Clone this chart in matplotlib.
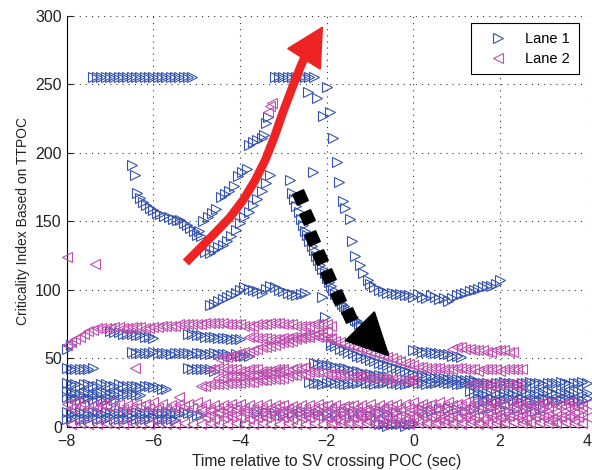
import matplotlib
matplotlib.use("Agg")
import matplotlib.pyplot as plt
from matplotlib.patches import Polygon

plt.rcParams['font.family'] = ['Liberation Sans', 'DejaVu Sans']

# sample times (sec) used by the regularly sampled tracks
TIME = [-8.0, -7.9, -7.8, -7.7, -7.6, -7.5, -7.4, -7.3, -7.2, -7.1,
        -7.0, -6.9, -6.8, -6.7, -6.6, -6.5, -6.4, -6.3, -6.2, -6.1,
        -6.0, -5.9, -5.8, -5.7, -5.6, -5.5, -5.4, -5.3, -5.2, -5.1,
        -5.0, -4.9, -4.8, -4.7, -4.6, -4.5, -4.4, -4.3, -4.2, -4.1,
        -4.0, -3.9, -3.8, -3.7, -3.6, -3.5, -3.4, -3.3, -3.2, -3.1,
        -3.0, -2.9, -2.8, -2.7, -2.6, -2.5, -2.4, -2.3, -2.2, -2.1,
        -2.0, -1.9, -1.8, -1.7, -1.6, -1.5, -1.4, -1.3, -1.2, -1.1,
        -1.0, -0.9, -0.8, -0.7, -0.6, -0.5, -0.4, -0.3, -0.2, -0.1,
        0.0, 0.1, 0.2, 0.3, 0.4, 0.5, 0.6, 0.7, 0.8, 0.9,
        1.0, 1.1, 1.2, 1.3, 1.4, 1.5, 1.6, 1.7, 1.8, 1.9,
        2.0, 2.1, 2.2, 2.3, 2.4, 2.5, 2.6, 2.7, 2.8, 2.9,
        3.0, 3.1, 3.2, 3.3, 3.4, 3.5, 3.6, 3.7, 3.8, 3.9,
        4.0]

# ---- Lane 1: regularly sampled tracks (start time, values every 0.1 s)
L1_TOP_A = (-7.4, [255, 255, 255, 255, 255, 255, 255, 255, 255, 255, 255, 255,
                   255, 255, 255, 255, 255, 255, 255, 255, 255, 255, 255, 255])
L1_TOP_B = (-3.2, [255, 255, 255, 255, 255, 255, 255, 255, 255, 255])
L1_TAIL = (-1.0, [104, 102, 100, 99, 98, 98, 97, 97, 96, 96, 95, 97, 95, 94, 96, 95,
                  93, 94, 92, 94, 96, 97, 98, 99, 100, 101, 102, 103, 103, 104, 107])
L1_LOW_BRANCH = (-4.8, [128, 127, 129, 131, 133, 136, 139, 144, 149, 153, 157, 162,
                        166, 172, 178, 184])
L1_100 = (-4.7, [89, 90, 92, 93, 95, 96, 98, 100, 102, 101, 100, 99, 98, 101, 103,
                 102, 100, 99, 98, 97, 96, 97, 98])
L1_60 = (-8.0, [57, 60])
L1_68 = (-7.0, [70, 69, 69, 68, 68, 68, 67, 67, 66, 66, 65])
L1_66 = (-5.2, [68, 68, 67, 67, 66, 66, 66, 65, 65, 65, 64, 64, 64])
L1_54 = (-6.5, [55, 54, 54, 54, 54, 55, 54, 54, 54, 53, 54, 54, 54, 54, 53, 54, 54,
                53, 53, 54, 53, 53, 53, 52, 53, 52, 52, 52])
L1_42A = (-8.0, [43, 42, 42, 42, 42, 42, 43])
L1_42B = (-5.2, [43, 42, 42, 42, 42, 42, 41])
L1_30 = (-8.0, [32, 31, 31, 30, 31, 31, 30, 30, 31, 31, 30, 30, 31, 30, 30, 30, 30,
                29, 30, 30, 29, 29, 28, 28])
L1_25 = (-8.0, [26, 25, 25, 24, 25, 25, 24, 24, 25, 25, 24, 24, 25, 24, 24, 24, 23, 23])
L1_21 = (-8.0, [22, 21, 21, 20, 21, 21, 20, 21, 20, 20, 21, 20])
L1_11 = (-8.0, [11, 10, 11, 11, 10, 10, 11, 11, 10, 11, 11, 10, 10, 11, 11, 10, 11,
                10, 10, 11, 11, 10, 10, 11, 10, 10, 10, 11, 10, 10, 9, 9])
L1_6 = (-8.0, [6, 6, 7, 6, 6, 6, 7, 6, 6, 6, 7, 6, 6, 6, 6, 7, 6, 6, 6, 6, 7, 6, 6,
               6, 6, 5])
L1_55R = (0.0, [56, 56, 55, 55, 55, 54, 54, 53, 53, 52, 52, 51])
L1_DIAG = (-1.9, [60, 59, 57, 56, 55, 54, 52, 51, 50, 49, 48, 47, 46, 45, 44, 43, 42,
                  41, 40, 39, 38, 38, 37, 37, 36, 36, 36, 35, 35, 35, 34, 34, 34, 34, 33])
L1_DIAG2 = (-2.3, [47, 46, 46, 45, 45, 44, 43, 43, 42, 41, 41, 40, 39, 39, 38, 38, 37, 37])
L1_32 = (-2.4, [33, 32, 32, 31, 32, 33, 32, 32, 31, 31, 32, 32, 33, 32, 32, 31, 32, 32,
                33, 32, 32, 31, 31, 32, 33, 32, 32, 31, 32, 32, 33, 33, 32, 32, 31, 31,
                32, 32, 33, 32, 32, 32, 31, 32, 32, 33, 32, 32, 31, 32, 32, 33, 32, 32,
                31, 32, 32, 32, 33, 32, 31, 32, 32, 33, 32])
L1_25R = (1.3, [26, 25, 25, 24, 25, 26, 25, 24, 25, 25, 24, 25, 26, 25, 25, 24, 25, 25,
                26, 25, 24, 25, 25, 24, 25, 26, 25, 25])
L1_20R = (1.5, [21, 20, 20, 21, 20, 19, 20, 21, 20, 20, 21, 20, 19, 20, 20, 21, 20, 20,
                19, 20, 21, 20, 20, 19, 20, 21])
L1_2 = (-0.8, [2, 2, 1, 2, 2, 2, 1, 2, 2])
# values every 0.2 s
L1_10M = (-3.6, [10, 11, 10, 9, 10, 11, 10, 10, 9, 10, 11, 10, 10, 9, 10, 10, 11])
L1_13R = (0.2, [13, 12, 13, 14, 13, 12, 13, 13, 14, 13, 12, 13, 13, 12, 13])

# ---- Lane 1: irregular points
L1_FALL_X = [-2.43, -2.22, -1.99, -2.08, -1.92, -1.85, -1.76, -1.71, -1.62, -1.58,
             -1.46, -1.41, -1.35, -1.23, -1.16, -1.05]
L1_FALL_Y = [244, 240, 248, 227, 230, 211, 193, 179, 165, 160, 152, 136, 125, 118, 112, 107]
L1_LEFT_X = [-6.49, -6.42, -6.38, -6.3, -6.24, -6.16, -6.08, -6.0, -5.92, -5.85, -5.75,
             -5.65, -5.55, -5.45, -5.38, -5.3, -5.22, -5.15, -5.07, -4.99, -4.9]
L1_LEFT_Y = [191, 184, 171, 167, 164, 162, 160, 158, 156, 155, 154, 153, 152, 151, 151,
             149, 147, 145, 143, 140, 139]
L1_UP_X = [-4.95, -4.85, -4.75, -4.65, -4.55, -4.45, -4.35, -4.25, -4.15, -4.05, -3.95,
           -3.85, -3.8, -3.7, -3.6, -3.5, -3.45, -3.4, -3.35]
L1_UP_Y = [143, 150, 153, 156, 159, 168, 170, 172, 176, 183, 186, 188, 206, 208, 209,
           211, 213, 222, 226]
L1_DROP_X = [-2.85, -2.8, -2.75, -2.7, -2.65, -2.6, -2.55, -2.5, -2.45, -2.4, -2.35,
             -2.3, -2.25, -2.2, -2.15, -2.1, -2.05, -2.0, -1.95, -1.9, -1.85, -1.8,
             -1.75, -1.7, -1.65, -1.6, -1.55, -1.5, -1.45, -1.4, -1.35, -1.3, -1.25,
             -1.2, -1.1]
L1_DROP_Y = [180, 171, 166, 161, 157, 152, 147, 143, 140, 136, 132, 129, 125, 122, 118,
             115, 112, 109, 106, 103, 100, 97, 95, 92, 90, 88, 86, 84, 82, 80, 78, 77,
             75, 74, 72]
L1_SOLO_X = [-2.31, -2.1, -2.03, -1.9]
L1_SOLO_Y = [186, 95, 80, 62]

# ---- Lane 2: regularly sampled tracks
L2_74 = (-8.0, [60, 62, 64, 66, 68, 70, 71, 72, 72, 72,
                72, 73, 73, 72, 72, 73, 73, 73, 72, 72,
                73, 73, 74, 74, 74, 74, 75, 75, 75, 75,
                75, 75, 76, 76, 76, 76, 76, 75, 75, 75,
                75, 74, 74, 74, 75, 75, 75, 76, 76, 76,
                75, 75, 75, 74, 74, 74, 74, 75, 75, 75,
                75, 74])
L2_66 = (-3.8, [66, 66, 65, 65, 65, 64, 64, 64, 65, 65, 66, 66, 66, 67, 67, 67, 66, 66,
                65, 65])
L2_RISE = (-4.5, [50, 51, 51, 52, 53, 54, 55, 55, 56, 57, 58, 58, 59, 60, 61, 62, 62,
                  63, 64, 65, 66, 66, 67, 68, 69, 70])
L2_DIAG = (-1.9, [64, 63, 62, 61, 60, 59, 58, 57, 56, 55, 54, 53, 52, 51, 50, 49, 48,
                  47, 46, 45, 44, 44, 43, 43, 43, 43, 42, 42, 42, 43, 43, 42, 42, 42,
                  41, 42, 42, 42, 42, 41, 42, 42, 42, 42, 42])
L2_57 = (0.9, [57, 58, 58, 57, 57, 56, 56, 56, 55, 55, 56, 56, 56, 55, 55])
L2_42 = (-4.7, [42, 42, 43, 43, 42, 42, 42, 41, 41, 42, 42, 42, 41, 41, 41, 42, 42, 42])
L2_35 = (-4.9, [30, 30, 31, 31, 31, 31, 32, 32, 32, 32, 33, 33, 33, 34, 34, 34, 35, 35,
                35, 36, 37, 38, 38, 39, 39, 40, 40, 40, 40, 39, 39, 39, 38, 38, 38, 37,
                37, 37, 36, 36, 36, 36, 35, 35, 35, 35, 34, 34, 34, 34])
L2_39 = (-4.5, [36, 36, 37, 37, 37, 37, 38, 38, 38, 38, 39, 39, 39, 40, 40, 41, 41, 42,
                43, 43, 44])
L2_31R = (1.3, [31, 31, 32, 31, 31, 30, 31, 31, 32, 31, 31, 30, 31])
# values every 0.2 s
L2_17 = (-8.0, [17, 18, 17, 16, 17, 18, 17, 16, 17, 17, 18, 17, 16, 17, 17, 18, 17, 16,
                16, 17, 17, 16, 16, 17, 16, 16, 15, 16, 16, 17, 16, 16, 15, 16, 16, 17,
                16, 16, 17, 17, 18, 17, 17, 18, 18, 17, 18, 18, 19, 18, 18, 19, 18, 18,
                17, 18, 18, 17, 18, 17, 17])
L2_14 = (-7.9, [14, 15, 14, 14, 15, 14, 13, 14, 15, 14, 14, 13, 14, 15, 14, 14, 13, 14,
                14, 15, 14, 13, 14, 14, 15, 14, 14, 13, 14, 15, 14, 14, 15, 14, 13, 14,
                14, 15, 14, 14, 15, 15, 14, 15, 16, 15, 15, 16, 15, 15, 16, 15, 15, 16,
                15, 15, 16, 15, 15, 15])
L2_12 = (-4.9, [12, 12, 11, 12, 13, 12, 12, 11, 12, 12, 13, 12, 11, 12, 12, 13, 12, 12,
                11, 12, 12, 13, 12, 12, 11, 12, 13, 12, 12, 11, 12, 12, 13, 12, 12, 11,
                12, 12, 13, 12, 12, 11, 12, 12, 13])
L2_9 = (-4.7, [9, 10, 9, 9, 10, 9, 8, 9, 10, 9, 9, 8, 9, 10, 9, 9, 8, 9, 9, 10, 9, 9,
               8, 9, 10, 9, 9, 8, 9, 10, 9, 9, 10, 9, 8, 9, 9, 10, 9, 9, 8, 9, 10, 9])
L2_7 = (-4.8, [7, 6, 7, 8, 7, 6, 7, 7, 8, 7, 6, 7, 7, 8, 7, 6, 7, 7, 8, 7, 6, 7, 7, 6,
               7, 8, 7, 6, 7, 7, 8, 7, 6, 7, 7, 8, 7, 6, 7, 7, 6, 7, 8, 7, 7])
L2_4 = (-1.9, [4, 5, 4, 4, 5, 4, 4, 5, 4, 4, 5, 4, 4, 5, 4, 4, 5, 4, 4, 5, 4, 4, 5, 4,
               4, 5, 4, 4, 5])
L2_2 = (-7.9, [2, 3, 2, 2, 3, 2, 2, 3, 2, 2, 3, 2, 2, 3, 2, 2, 3, 2, 2, 3, 2, 2, 3, 2,
               2, 3, 2, 2, 3, 2, 2, 3, 2, 2, 3, 2, 2, 3, 2, 2, 3, 2, 2, 3, 2, 2, 3, 2,
               2, 3, 3, 4, 3, 3, 4, 3, 3, 4, 3, 3])

L2_SOLO_X = [-8.0, -7.35, -6.42, -5.4, -3.5, -3.35, -3.3, -3.27]
L2_SOLO_Y = [124, 119, 43, 22, 34, 230, 234, 236]

# ---- annotation arrows
RED_PATH_X = [-5.25, -4.92, -4.58, -4.23, -3.93, -3.65, -3.42, -3.22, -3.01, -2.8,
              -2.62, -2.48]
RED_PATH_Y = [120, 130.5, 141.4, 153, 165.5, 180, 194.6, 210.6, 229.6, 247.1, 261.7, 272]
RED_HEAD = [(-2.1, 291.6), (-2.9, 276), (-2.15, 261)]
DOT_X = [-2.61, -2.46, -2.33, -2.15, -1.98, -1.75, -1.48]
DOT_Y = [168, 153, 138, 124, 110, 95, 82]
BLACK_HEAD = [(-1.57, 63), (-0.9, 84), (-0.57, 52)]

LANE1_DENSE = [L1_TOP_A, L1_TOP_B, L1_TAIL, L1_LOW_BRANCH, L1_100, L1_60, L1_68, L1_66,
               L1_54, L1_42A, L1_42B, L1_30, L1_25, L1_21, L1_11, L1_6, L1_55R, L1_DIAG,
               L1_DIAG2, L1_32, L1_25R, L1_20R, L1_2]
LANE1_SPARSE = [L1_10M, L1_13R]
LANE1_FREE = [(L1_FALL_X, L1_FALL_Y), (L1_LEFT_X, L1_LEFT_Y), (L1_UP_X, L1_UP_Y),
              (L1_DROP_X, L1_DROP_Y), (L1_SOLO_X, L1_SOLO_Y)]
LANE2_DENSE = [L2_74, L2_66, L2_RISE, L2_DIAG, L2_57, L2_42, L2_35, L2_39, L2_31R]
LANE2_SPARSE = [L2_17, L2_14, L2_12, L2_9, L2_7, L2_4, L2_2]
LANE2_FREE = [(L2_SOLO_X, L2_SOLO_Y)]


def collect(dense, sparse, free):
    xs, ys = [], []
    for start, vals in dense:
        i = TIME.index(start)
        xs += TIME[i:i + len(vals)]
        ys += vals
    for start, vals in sparse:
        i = TIME.index(start)
        xs += TIME[i:i + 2 * len(vals):2]
        ys += vals
    for fx, fy in free:
        xs += fx
        ys += fy
    return xs, ys


BLUE = '#3553AE'
MAGENTA = '#BF4FAE'

fig = plt.figure(figsize=(5.92, 4.70), dpi=100)
ax = fig.add_axes([0.1127, 0.0915, 0.8784, 0.8751])

x1, y1 = collect(LANE1_DENSE, LANE1_SPARSE, LANE1_FREE)
x2, y2 = collect(LANE2_DENSE, LANE2_SPARSE, LANE2_FREE)
ax.plot(x1, y1, ls='none', marker='>', ms=6.5, mfc='none', mec=BLUE, mew=0.8,
        label='Lane 1', clip_on=False, zorder=3)
ax.plot(x2, y2, ls='none', marker='<', ms=6.5, mfc='none', mec=MAGENTA, mew=0.8,
        label='Lane 2', clip_on=False, zorder=3)

# red arrow
ax.plot(RED_PATH_X, RED_PATH_Y, color='#EE2424', lw=6.2, solid_capstyle='butt',
        solid_joinstyle='round', zorder=5)
ax.add_patch(Polygon(RED_HEAD, closed=True, color='#EE2424', zorder=5))
# black dotted arrow (squares turned along the arrow direction)
ax.plot(DOT_X, DOT_Y, ls='none', marker=(4, 0, 69), ms=12, color='black', zorder=5)
ax.add_patch(Polygon(BLACK_HEAD, closed=True, color='black', zorder=5))

ax.set_xlim(-8, 4)
ax.set_ylim(0, 300)
ax.set_xticks([-8, -6, -4, -2, 0, 2, 4])
ax.set_yticks([0, 50, 100, 150, 200, 250, 300])
ax.grid(True, color='#333333', ls=(0, (1, 4.5)), lw=0.8)
ax.set_axisbelow(True)
ax.spines['top'].set_visible(False)
ax.spines['right'].set_visible(False)
ax.tick_params(direction='in', length=4, labelsize=11.5, colors='#222222')
ax.tick_params(axis='x', pad=5)
ax.set_xlabel('Time relative to SV crossing POC (sec)', fontsize=11.2, color='#222222')
ax.set_ylabel('Criticality Index Based on TTPOC', fontsize=10, color='#222222')

leg = ax.legend(loc='upper right', bbox_to_anchor=(0.985, 0.982), borderaxespad=0,
                fancybox=False, framealpha=1, edgecolor='black', fontsize=10.5,
                handlelength=2.4, handletextpad=0.7, borderpad=0.6, labelspacing=0.4)
leg.get_frame().set_linewidth(0.8)

fig.savefig('out.png', dpi=100)
